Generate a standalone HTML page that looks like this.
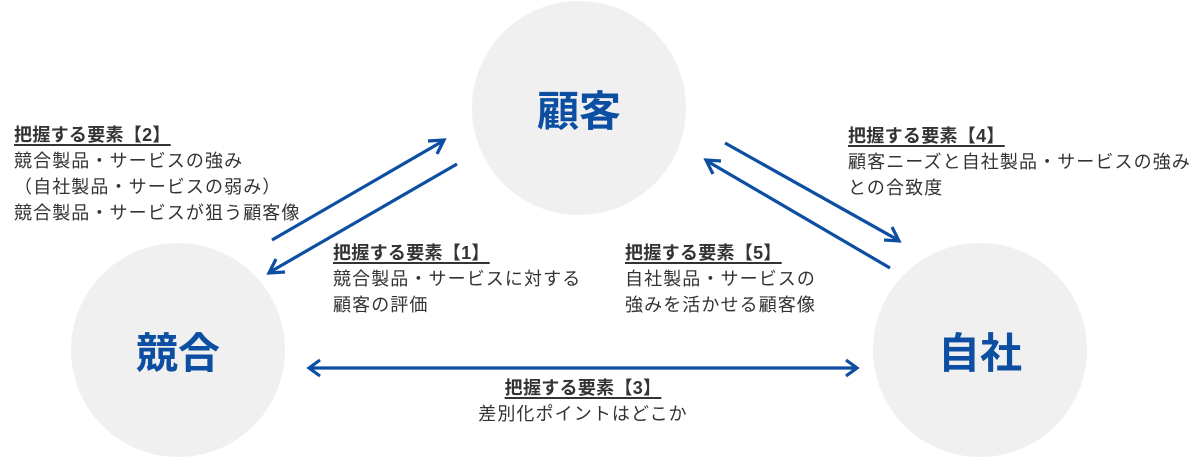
<!DOCTYPE html>
<html><head><meta charset="utf-8"><style>
body{margin:0;width:1200px;height:457px;background:#fff;overflow:hidden;position:relative;font-family:"Liberation Sans","Noto Sans CJK JP",sans-serif;color:#333}
.c{position:absolute;border-radius:50%;background:#f0f0f0;width:214px;height:214px;display:flex;align-items:center;justify-content:center;color:#0b4ea2;font-weight:bold;font-size:42px}
.t{position:absolute;font-size:18px;line-height:26px;white-space:nowrap;letter-spacing:1.1px}
.t b{text-decoration:underline;text-decoration-thickness:2px;text-underline-offset:3px;font-weight:bold;color:#333;letter-spacing:0.3px}
</style></head><body>
<div class="c" style="left:472px;top:1px">顧客</div>
<div class="c" style="left:71px;top:243px">競合</div>
<div class="c" style="left:873px;top:243px">自社</div>
<svg width="1200" height="457" style="position:absolute;left:0;top:0" fill="none" stroke="#0b4ea2" stroke-width="3.2">
<line x1="272" y1="240" x2="443" y2="141"/><polyline points="428,141 444,140 437,154"/>
<line x1="457" y1="164" x2="270" y2="272"/><polyline points="285,272 269,273 276,259"/>
<line x1="725" y1="143" x2="898" y2="240"/><polyline points="884,240 899,241 892,227"/>
<line x1="890" y1="268" x2="707" y2="161"/><polyline points="721,161 706,160 713,174"/>
<line x1="310" y1="368" x2="856" y2="368"/><polyline points="320,360 309,368 320,376"/><polyline points="846,360 857,368 846,376"/>
</svg>
<div class="t" style="left:14px;top:122px"><b>把握する要素【2】</b><br>競合製品・サービスの強み<br>（自社製品・サービスの弱み）<br>競合製品・サービスが狙う顧客像</div>
<div class="t" style="left:333px;top:240px"><b>把握する要素【1】</b><br>競合製品・サービスに対する<br>顧客の評価</div>
<div class="t" style="left:625px;top:240px"><b>把握する要素【5】</b><br>自社製品・サービスの<br>強みを活かせる顧客像</div>
<div class="t" style="left:848px;top:123px"><b>把握する要素【4】</b><br>顧客ニーズと自社製品・サービスの強み<br>との合致度</div>
<div class="t" style="left:433px;top:375px;width:300px;text-align:center"><b>把握する要素【3】</b><br>差別化ポイントはどこか</div>
</body></html>
